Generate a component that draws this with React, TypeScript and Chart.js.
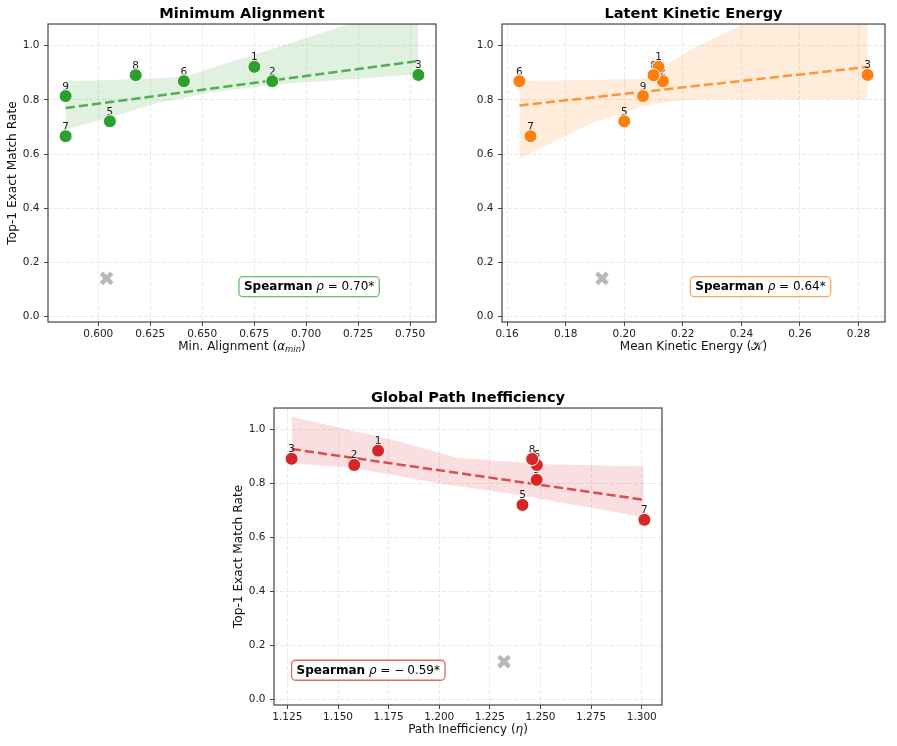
import React, { useEffect, useRef } from 'react';
import { Chart, registerables } from 'chart.js';

Chart.register(...registerables);

const FONT = "'DejaVu Sans', 'Liberation Sans', sans-serif";

// ---- data ----
const modelIds = ['1', '2', '3', '5', '6', '7', '8', '9'];
const exactMatchRate = [0.922, 0.869, 0.892, 0.721, 0.869, 0.666, 0.891, 0.814];
const minAlignment = [0.6751, 0.6837, 0.754, 0.6056, 0.6412, 0.5843, 0.618, 0.5843];
const kineticEnergy = [0.2117, 0.2132, 0.2831, 0.2, 0.1642, 0.168, 0.21, 0.2064];
const pathInefficiency = [1.1698, 1.158, 1.1271, 1.2411, 1.2482, 1.3013, 1.2459, 1.2481];

// excluded model (gray X)
const outlierRate = 0.141;
const outlierMinAlignment = 0.604;
const outlierKinetic = 0.1924;
const outlierPath = 1.232;

// tick labels
const yTicks = [0.0, 0.2, 0.4, 0.6, 0.8, 1.0];
const alignTicks = [0.6, 0.625, 0.65, 0.675, 0.7, 0.725, 0.75];
const kineticTicks = [0.16, 0.18, 0.2, 0.22, 0.24, 0.26, 0.28];
const pathTicks = [1.125, 1.15, 1.175, 1.2, 1.225, 1.25, 1.275, 1.3];

// confidence bands
const alignBandX = [0.5843, 0.6043, 0.6171, 0.6284, 0.6412, 0.6444, 0.6524, 0.6748, 0.6844, 0.7165, 0.7213, 0.754];
const alignBandUpper = [0.87, 0.872, 0.876, 0.88, 0.886, 0.893, 0.913, 0.967, 0.99, 1.07, 1.081, 1.16];
const alignBandLower = [0.691, 0.732, 0.762, 0.788, 0.807, 0.812, 0.825, 0.847, 0.856, 0.874, 0.876, 0.895];

const kineticBandX = [0.1642, 0.1887, 0.2, 0.2055, 0.21, 0.2122, 0.219, 0.2235, 0.2403, 0.2459, 0.2831];
const kineticBandUpper = [0.87, 0.873, 0.876, 0.877, 0.899, 0.914, 0.96, 0.99, 1.078, 1.11, 1.31];
const kineticBandLower = [0.584, 0.714, 0.75, 0.775, 0.783, 0.788, 0.797, 0.802, 0.803, 0.803, 0.802];

const pathBandX = [1.1271, 1.1573, 1.1819, 1.2016, 1.2082, 1.2409, 1.2475, 1.301];
const pathBandUpper = [1.048, 0.996, 0.953, 0.911, 0.897, 0.878, 0.873, 0.863];
const pathBandLower = [0.875, 0.858, 0.825, 0.799, 0.792, 0.756, 0.747, 0.675];

const spearmanValues = ['0.70*', '0.64*', '−0.59*'];

type Run = { text: string; font: string; dy?: number; gap?: number };

const norm = (s: number) => `${s}px ${FONT}`;
const ital = (s: number) => `italic ${s}px ${FONT}`;
const bold = (s: number) => `bold ${s}px ${FONT}`;

function runsWidth(ctx: CanvasRenderingContext2D, runs: Run[]) {
  let w = 0;
  for (const r of runs) {
    ctx.font = r.font;
    w += ctx.measureText(r.text).width + (r.gap || 0);
  }
  return w;
}

function drawRuns(ctx: CanvasRenderingContext2D, runs: Run[], x: number, y: number) {
  ctx.textAlign = 'left';
  ctx.textBaseline = 'middle';
  for (const r of runs) {
    ctx.font = r.font;
    x += r.gap || 0;
    ctx.fillText(r.text, x, y + (r.dy || 0));
    x += ctx.measureText(r.text).width;
  }
}

function fitLine(xs: number[], ys: number[]) {
  const n = xs.length;
  const mx = xs.reduce((a, b) => a + b, 0) / n;
  const my = ys.reduce((a, b) => a + b, 0) / n;
  let sxy = 0;
  let sxx = 0;
  for (let i = 0; i < n; i++) {
    sxy += (xs[i] - mx) * (ys[i] - my);
    sxx += (xs[i] - mx) ** 2;
  }
  const b = sxy / sxx;
  return { a: my - b * mx, b };
}

function statRuns(value: string): Run[] {
  const runs: Run[] = [
    { text: 'Spearman', font: bold(12) },
    { text: ' ', font: norm(12) },
    { text: 'ρ', font: ital(12) },
    { text: ' = ', font: norm(12) },
  ];
  if (value.startsWith('−')) {
    runs.push({ text: '−', font: norm(12) });
    runs.push({ text: value.slice(1), font: norm(12), gap: 3 });
  } else {
    runs.push({ text: value, font: norm(12) });
  }
  return runs;
}

interface PanelCfg {
  title: string;
  xs: number[];
  outlierX: number;
  ticks: number[];
  dec: number;
  rgb: string;
  bandX: number[];
  bandUpper: number[];
  bandLower: number[];
  xLabel: Run[];
  stat: string;
  statCx: number;
  statCy: number;
  showYTitle: boolean;
  left: number;
  top: number;
  width: number;
  height: number;
  padRight: number;
}

const panels: PanelCfg[] = [
  {
    title: 'Minimum Alignment',
    xs: minAlignment,
    outlierX: outlierMinAlignment,
    ticks: alignTicks,
    dec: 3,
    rgb: '44,160,44',
    bandX: alignBandX,
    bandUpper: alignBandUpper,
    bandLower: alignBandLower,
    xLabel: [
      { text: 'Min. Alignment (', font: norm(12) },
      { text: 'α', font: ital(12) },
      { text: 'min', font: ital(8.5), dy: 3 },
      { text: ')', font: norm(12) },
    ],
    stat: spearmanValues[0],
    statCx: 0.673,
    statCy: 0.8815,
    showYTitle: true,
    left: 0,
    top: 0,
    width: 448,
    height: 360,
    padRight: 12,
  },
  {
    title: 'Latent Kinetic Energy',
    xs: kineticEnergy,
    outlierX: outlierKinetic,
    ticks: kineticTicks,
    dec: 2,
    rgb: '255,127,14',
    bandX: kineticBandX,
    bandUpper: kineticBandUpper,
    bandLower: kineticBandLower,
    xLabel: [
      { text: 'Mean Kinetic Energy (', font: norm(12) },
      { text: '𝒦', font: norm(12) },
      { text: ')', font: norm(12) },
    ],
    stat: spearmanValues[1],
    statCx: 0.675,
    statCy: 0.8815,
    showYTitle: false,
    left: 454,
    top: 0,
    width: 443,
    height: 360,
    padRight: 8,
  },
  {
    title: 'Global Path Inefficiency',
    xs: pathInefficiency,
    outlierX: outlierPath,
    ticks: pathTicks,
    dec: 3,
    rgb: '214,39,40',
    bandX: pathBandX,
    bandUpper: pathBandUpper,
    bandLower: pathBandLower,
    xLabel: [
      { text: 'Path Inefficiency (', font: norm(12) },
      { text: 'η', font: ital(12) },
      { text: ')', font: norm(12) },
    ],
    stat: spearmanValues[2],
    statCx: 0.243,
    statCy: 0.883,
    showYTitle: true,
    left: 226,
    top: 384,
    width: 448,
    height: 359,
    padRight: 11,
  },
];

function Panel({ cfg }: { cfg: PanelCfg }) {
  const ref = useRef<HTMLCanvasElement>(null);

  useEffect(() => {
    const canvas = ref.current!;
    const ys = exactMatchRate;
    const { a, b } = fitLine(cfg.xs, ys);
    const xMin = Math.min(...cfg.xs);
    const xMax = Math.max(...cfg.xs);
    const allX = [...cfg.xs, cfg.outlierX];
    const lo = Math.min(...allX);
    const hi = Math.max(...allX);
    const margin = (hi - lo) * 0.05;

    const decor = {
      id: 'decor',
      afterDatasetDraw(chart: any, args: any) {
        if (args.index !== 2) return;
        const ctx = chart.ctx as CanvasRenderingContext2D;
        const meta = chart.getDatasetMeta(4);
        ctx.save();
        ctx.fillStyle = '#1a1a1a';
        ctx.font = norm(10.5);
        ctx.textAlign = 'center';
        ctx.textBaseline = 'alphabetic';
        meta.data.forEach((el: any, i: number) => {
          ctx.fillText(modelIds[i], el.x, el.y - 6.5);
        });
        ctx.restore();
      },
      afterDraw(chart: any) {
        const ctx = chart.ctx as CanvasRenderingContext2D;
        const ca = chart.chartArea;
        ctx.save();
        // frame
        ctx.strokeStyle = '#444';
        ctx.lineWidth = 1.2;
        ctx.strokeRect(ca.left, ca.top, ca.right - ca.left, ca.bottom - ca.top);
        // x label
        ctx.fillStyle = '#111';
        const w = runsWidth(ctx, cfg.xLabel);
        drawRuns(ctx, cfg.xLabel, (ca.left + ca.right) / 2 - w / 2, ca.bottom + 25);
        // stat box
        const runs = statRuns(cfg.stat);
        const tw = runsWidth(ctx, runs);
        const cx = ca.left + (ca.right - ca.left) * cfg.statCx;
        const cy = ca.top + (ca.bottom - ca.top) * cfg.statCy;
        const bw = tw + 10;
        const bh = 20;
        ctx.beginPath();
        if ((ctx as any).roundRect) {
          (ctx as any).roundRect(cx - bw / 2, cy - bh / 2, bw, bh, 4);
        } else {
          ctx.rect(cx - bw / 2, cy - bh / 2, bw, bh);
        }
        ctx.fillStyle = '#ffffff';
        ctx.fill();
        ctx.strokeStyle = `rgba(${cfg.rgb},0.7)`;
        ctx.lineWidth = 1.3;
        ctx.stroke();
        ctx.fillStyle = '#000';
        drawRuns(ctx, runs, cx - tw / 2, cy + 0.5);
        ctx.restore();
      },
    };

    const tickFont = { family: FONT, size: 10.5 };
    const gridOpts = {
      color: '#e2e2e2',
      lineWidth: 0.8,
      tickLength: 4,
      tickColor: '#444',
      tickWidth: 1,
      tickBorderDash: [],
      borderDash: [4, 2],
    };

    const chart = new Chart(canvas, {
      type: 'scatter',
      data: {
        datasets: [
          {
            label: 'ci-upper',
            data: cfg.bandX.map((x, i) => ({ x, y: cfg.bandUpper[i] })),
            showLine: true,
            pointRadius: 0,
            borderColor: 'transparent',
            borderWidth: 0,
            backgroundColor: `rgba(${cfg.rgb},0.15)`,
            fill: '+1',
            order: 5,
          },
          {
            label: 'ci-lower',
            data: cfg.bandX.map((x, i) => ({ x, y: cfg.bandLower[i] })),
            showLine: true,
            pointRadius: 0,
            borderColor: 'transparent',
            borderWidth: 0,
            fill: false,
            order: 4,
          },
          {
            label: 'fit',
            data: [
              { x: xMin, y: a + b * xMin },
              { x: xMax, y: a + b * xMax },
            ],
            showLine: true,
            pointRadius: 0,
            borderColor: `rgba(${cfg.rgb},0.8)`,
            borderWidth: 2.5,
            borderDash: [9.25, 4],
            fill: false,
            order: 3,
          },
          {
            label: 'excluded',
            data: [{ x: cfg.outlierX, y: outlierRate }],
            pointStyle: 'crossRot',
            pointRadius: 7.5,
            borderWidth: 4.5,
            borderColor: '#b8b8b8',
            backgroundColor: '#b8b8b8',
            order: 2,
          },
          {
            label: 'models',
            data: cfg.xs.map((x, i) => ({ x, y: ys[i] })),
            pointRadius: 6.5,
            backgroundColor: `rgb(${cfg.rgb})`,
            borderColor: '#ffffff',
            borderWidth: 1,
            order: 1,
          },
        ],
      },
      options: {
        responsive: false,
        maintainAspectRatio: false,
        animation: false,
        devicePixelRatio: 1,
        layout: { padding: { left: 0, right: cfg.padRight, top: 0, bottom: 0 } },
        plugins: {
          legend: { display: false },
          tooltip: { enabled: false },
          title: {
            display: true,
            text: cfg.title,
            fullSize: false,
            color: '#000',
            font: { family: FONT, size: 14.6, weight: 'bold', lineHeight: 1.2 },
            padding: { top: 5, bottom: 1.5 },
          },
        },
        scales: {
          x: {
            type: 'linear',
            min: lo - margin,
            max: hi + margin,
            afterBuildTicks: (s: any) => {
              s.ticks = cfg.ticks.map((v) => ({ value: v }));
            },
            afterFit: (s: any) => {
              s.height = 38;
            },
            ticks: {
              callback: (v: any) => Number(v).toFixed(cfg.dec),
              font: tickFont,
              color: '#222',
              padding: 2,
              maxRotation: 0,
              autoSkip: false,
            },
            grid: gridOpts,
            border: { display: false, dash: [4, 2] },
          },
          y: {
            type: 'linear',
            min: -0.02,
            max: 1.08,
            afterBuildTicks: (s: any) => {
              s.ticks = yTicks.map((v) => ({ value: v }));
            },
            afterFit: (s: any) => {
              s.width = 48;
            },
            ticks: {
              callback: (v: any) => Number(v).toFixed(1),
              font: tickFont,
              color: '#222',
              padding: 4.5,
              autoSkip: false,
            },
            title: {
              display: cfg.showYTitle,
              text: 'Top-1 Exact Match Rate',
              color: '#111',
              font: { family: FONT, size: 12.2 },
              padding: { top: 6, bottom: 0 },
            },
            grid: gridOpts,
            border: { display: false, dash: [4, 2] },
          },
        },
      } as any,
      plugins: [decor],
    });

    return () => chart.destroy();
  }, [cfg]);

  return (
    <canvas
      ref={ref}
      width={cfg.width}
      height={cfg.height}
      style={{
        position: 'absolute',
        left: cfg.left,
        top: cfg.top,
        width: cfg.width,
        height: cfg.height,
      }}
    />
  );
}

export default function App() {
  return (
    <div
      style={{
        position: 'absolute',
        left: 0,
        top: 0,
        width: 897,
        height: 746,
        background: '#ffffff',
        overflow: 'hidden',
      }}
    >
      {panels.map((p) => (
        <Panel key={p.title} cfg={p} />
      ))}
    </div>
  );
}
